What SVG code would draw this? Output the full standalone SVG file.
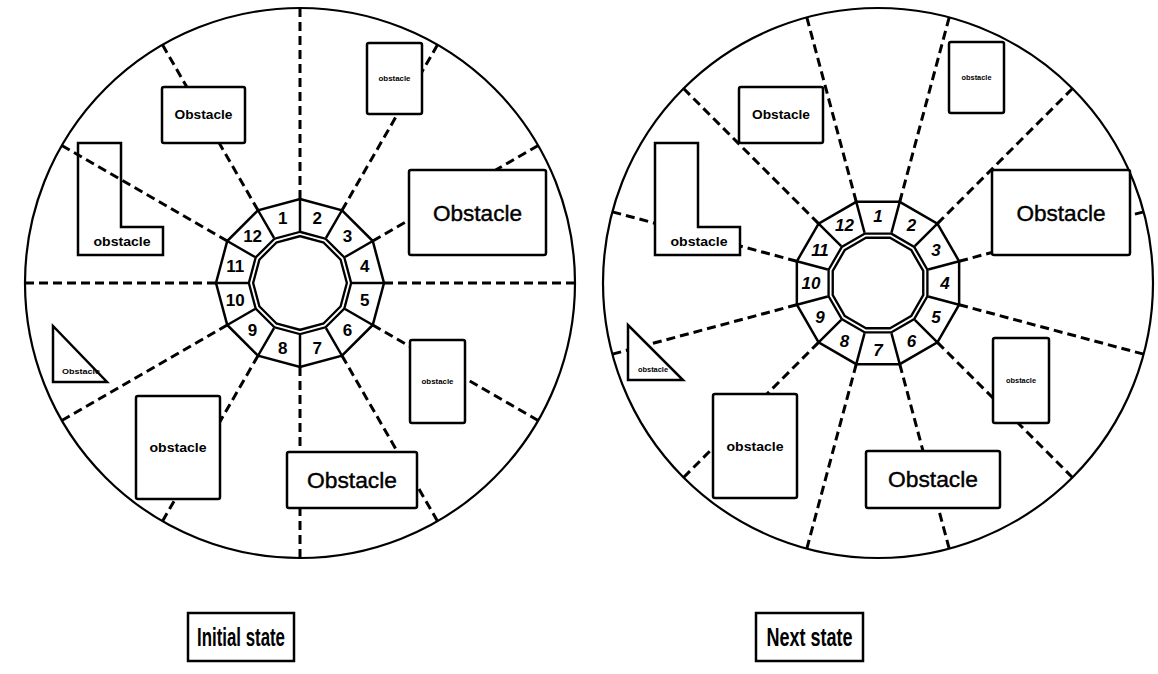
<svg xmlns="http://www.w3.org/2000/svg" xmlns:xlink="http://www.w3.org/1999/xlink" width="1158" height="674" viewBox="0 0 1158 674">
<style>
.circ{fill:none;stroke:#000;stroke-width:2.2}
.ray{fill:none;stroke:#000;stroke-width:3;stroke-dasharray:9 5}
.obs{fill:#fff;stroke:#000;stroke-width:2.5}
.obsn{fill:none;stroke:#000;stroke-width:2.5}
.cell{fill:none;stroke:#000;stroke-width:2.5}
.t{font-family:"Liberation Sans",Arial,sans-serif;fill:#000;text-anchor:middle}
.num{font-size:17px;font-weight:bold}
.numi{font-size:17px;font-weight:bold;font-style:italic}
.big{font-size:22px;stroke:#000;stroke-width:0.4}
.med{font-size:13px;font-weight:bold}
.tiny{font-size:8px;font-weight:bold}
.lab{font-size:26px;font-weight:bold}
</style>
<defs>
<line id="ray" class="ray" x1="0" y1="-84" x2="0" y2="-275"/>
<g id="ring">
<polygon points="0,-84 42,-72.75 72.75,-42 84,0 72.75,42 42,72.75 0,84 -42,72.75 -72.75,42 -84,0 -72.75,-42 -42,-72.75" fill="#fff" stroke="#000" stroke-width="2.5"/>
<polygon points="0,-49 24.5,-42.44 42.44,-24.5 49,0 42.44,24.5 24.5,42.44 0,49 -24.5,42.44 -42.44,24.5 -49,0 -42.44,-24.5 -24.5,-42.44" fill="#fff" stroke="#000" stroke-width="6.5"/>
<polygon points="0,-49 24.5,-42.44 42.44,-24.5 49,0 42.44,24.5 24.5,42.44 0,49 -24.5,42.44 -42.44,24.5 -49,0 -42.44,-24.5 -24.5,-42.44" fill="none" stroke="#fff" stroke-width="1.8"/>
<path class="cell" d="M0,-52L0,-84M26,-45.03L42,-72.75M45.03,-26L72.75,-42M52,0L84,0M45.03,26L72.75,42M26,45.03L42,72.75M0,52L0,84M-26,45.03L-42,72.75M-45.03,26L-72.75,42M-52,0L-84,0M-45.03,-26L-72.75,-42M-26,-45.03L-42,-72.75"/>
</g>
</defs>
<rect width="1158" height="674" fill="#fff"/>

<!-- LEFT PANEL -->
<g id="left-circle"><circle class="circ" cx="300" cy="283" r="275"/></g>
<g id="left-connectors" transform="translate(300,283)">
<use href="#ray" transform="rotate(0)"/>
<use href="#ray" transform="rotate(30)"/>
<use href="#ray" transform="rotate(60)"/>
<use href="#ray" transform="rotate(90)"/>
<use href="#ray" transform="rotate(120)"/>
<use href="#ray" transform="rotate(150)"/>
<use href="#ray" transform="rotate(180)"/>
<use href="#ray" transform="rotate(210)"/>
<use href="#ray" transform="rotate(240)"/>
<use href="#ray" transform="rotate(270)"/>
<use href="#ray" transform="rotate(300)"/>
<use href="#ray" transform="rotate(330)"/>
</g>
<g id="left-ob-top"><rect class="obs" x="162" y="87" width="83" height="56" rx="2"/><text class="t med" x="203.5" y="119" textLength="58" lengthAdjust="spacingAndGlyphs">Obstacle</text></g>
<g id="left-ob-smalltop"><rect class="obs" x="367" y="43" width="55" height="71" rx="2"/><text class="t tiny" x="394.5" y="81" textLength="32" lengthAdjust="spacingAndGlyphs">obstacle</text></g>
<g id="left-ob-big"><rect class="obs" x="409" y="170" width="137" height="85" rx="2"/><text class="t big" x="477.5" y="221" textLength="89" lengthAdjust="spacingAndGlyphs">Obstacle</text></g>
<g id="left-ob-L"><path class="obsn" d="M78,143H121V227H163V255H78Z"/><text class="t med" x="122" y="246" textLength="57" lengthAdjust="spacingAndGlyphs">obstacle</text></g>
<g id="left-ob-tri"><path class="obs" d="M53,326V382H107Z"/><text class="t tiny" x="81" y="374" textLength="38" lengthAdjust="spacingAndGlyphs">Obstacle</text></g>
<g id="left-ob-lowleft"><rect class="obs" x="136" y="396" width="84" height="103" rx="2"/><text class="t med" x="178" y="452" textLength="57" lengthAdjust="spacingAndGlyphs">obstacle</text></g>
<g id="left-ob-smallright"><rect class="obs" x="410" y="340" width="55" height="83" rx="2"/><text class="t tiny" x="437.5" y="384" textLength="32" lengthAdjust="spacingAndGlyphs">obstacle</text></g>
<g id="left-ob-bottom"><rect class="obs" x="287" y="452" width="130" height="56" rx="2"/><text class="t big" x="352" y="488" textLength="90" lengthAdjust="spacingAndGlyphs">Obstacle</text></g>
<g id="left-ring">
<use href="#ring" transform="translate(300,283)"/>
<text class="t num" x="282.7" y="224.3">1</text>
<text class="t num" x="317.3" y="224.3">2</text>
<text class="t num" x="347.4" y="241.6">3</text>
<text class="t num" x="364.7" y="271.7">4</text>
<text class="t num" x="364.7" y="306.3">5</text>
<text class="t num" x="347.4" y="336.4">6</text>
<text class="t num" x="317.3" y="353.7">7</text>
<text class="t num" x="282.7" y="353.7">8</text>
<text class="t num" x="252.6" y="336.4">9</text>
<text class="t num" x="235.3" y="306.3">10</text>
<text class="t num" x="235.3" y="271.7">11</text>
<text class="t num" x="252.6" y="241.6">12</text>
</g>

<!-- RIGHT PANEL -->
<g id="right-circle"><circle class="circ" cx="878" cy="283" r="275"/></g>
<g id="right-connectors" transform="translate(878,283)">
<use href="#ray" transform="rotate(15)"/>
<use href="#ray" transform="rotate(45)"/>
<use href="#ray" transform="rotate(75)"/>
<use href="#ray" transform="rotate(105)"/>
<use href="#ray" transform="rotate(135)"/>
<use href="#ray" transform="rotate(165)"/>
<use href="#ray" transform="rotate(195)"/>
<use href="#ray" transform="rotate(225)"/>
<use href="#ray" transform="rotate(255)"/>
<use href="#ray" transform="rotate(285)"/>
<use href="#ray" transform="rotate(315)"/>
<use href="#ray" transform="rotate(345)"/>
</g>
<g id="right-ob-top"><rect class="obs" x="739" y="87" width="84" height="56" rx="2"/><text class="t med" x="781" y="119" textLength="58" lengthAdjust="spacingAndGlyphs">Obstacle</text></g>
<g id="right-ob-smalltop"><rect class="obs" x="949" y="42" width="55" height="71" rx="2"/><text class="t tiny" x="976.5" y="80" textLength="30" lengthAdjust="spacingAndGlyphs">obstacle</text></g>
<g id="right-ob-big"><rect class="obs" x="992" y="170" width="138" height="85" rx="2"/><text class="t big" x="1061" y="221" textLength="89" lengthAdjust="spacingAndGlyphs">Obstacle</text></g>
<g id="right-ob-L"><path class="obs" d="M655,143H698V227H740V255H655Z"/><text class="t med" x="699" y="246" textLength="57" lengthAdjust="spacingAndGlyphs">obstacle</text></g>
<g id="right-ob-tri"><path class="obs" d="M628,325V380H683Z"/><text class="t tiny" x="653" y="372" textLength="30" lengthAdjust="spacingAndGlyphs">obstacle</text></g>
<g id="right-ob-lowleft"><rect class="obs" x="713" y="394" width="84" height="104" rx="2"/><text class="t med" x="755" y="451" textLength="57" lengthAdjust="spacingAndGlyphs">obstacle</text></g>
<g id="right-ob-smallright"><rect class="obs" x="993" y="338" width="56" height="85" rx="2"/><text class="t tiny" x="1021" y="383" textLength="30" lengthAdjust="spacingAndGlyphs">obstacle</text></g>
<g id="right-ob-bottom"><rect class="obs" x="866" y="451" width="134" height="57" rx="2"/><text class="t big" x="933" y="487" textLength="90" lengthAdjust="spacingAndGlyphs">Obstacle</text></g>
<g id="right-ring">
<use href="#ring" transform="translate(878,283) rotate(15)"/>
<text class="t numi" x="878" y="222">1</text>
<text class="t numi" x="911.5" y="231">2</text>
<text class="t numi" x="936" y="255.5">3</text>
<text class="t numi" x="945" y="289">4</text>
<text class="t numi" x="936" y="322.5">5</text>
<text class="t numi" x="911.5" y="347">6</text>
<text class="t numi" x="878" y="356">7</text>
<text class="t numi" x="844.5" y="347">8</text>
<text class="t numi" x="820" y="322.5">9</text>
<text class="t numi" x="811" y="289">10</text>
<text class="t numi" x="820" y="255.5">11</text>
<text class="t numi" x="844.5" y="231">12</text>
</g>

<!-- CAPTIONS -->
<g id="label-initial"><rect x="188" y="613" width="106" height="48" fill="#fff" stroke="#000" stroke-width="2.5"/><text class="t lab" x="241" y="646" textLength="88" lengthAdjust="spacingAndGlyphs">Initial state</text></g>
<g id="label-next"><rect x="756" y="613" width="107" height="48" fill="#fff" stroke="#000" stroke-width="2.5"/><text class="t lab" x="809.5" y="646" textLength="86" lengthAdjust="spacingAndGlyphs">Next state</text></g>
</svg>
